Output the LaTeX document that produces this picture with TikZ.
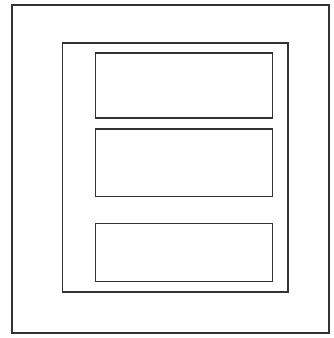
\documentclass[tikz,border=0pt]{standalone}
\usepackage{tikz}

\begin{document}
\begin{tikzpicture}[
  x=1pt, y=-1pt,
  frame/.style={draw=black!80, line width=1.2pt, inner sep=0pt, minimum width=#1},
  slot/.style={frame=177pt}
]
\useasboundingbox (0,0) rectangle (333,338);
\node[frame=317pt, minimum height=328pt] (outer) at (170.5,169) {};
\node[frame=225.5pt, minimum height=249pt] (inner) at (175.25,167.5) {};
\node[slot, minimum height=65pt] (top) at (184,85.5) {};
\node[slot, minimum height=67.5pt] (mid) at (184,162.75) {};
\node[slot, minimum height=58pt] (bot) at (184,252.4) {};
\end{tikzpicture}
\end{document}
